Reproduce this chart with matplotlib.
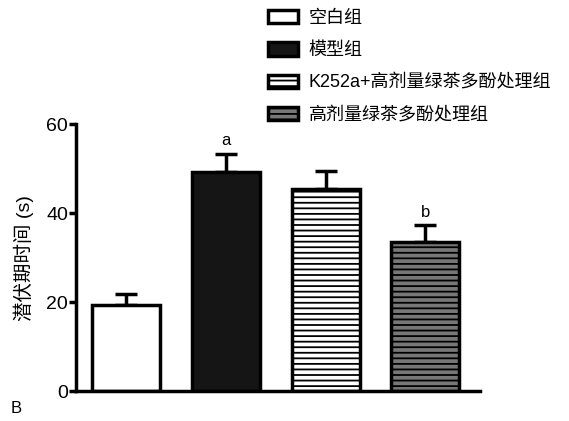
import matplotlib
matplotlib.use('Agg')
import matplotlib.pyplot as plt
from matplotlib.patches import Patch

plt.rcParams['font.family'] = ['Liberation Sans', 'Noto Sans CJK SC']
plt.rcParams['hatch.linewidth'] = 1.3

# group names, mean latency and upper error (SEM)
groups = ['空白组', '模型组', 'K252a+高剂量绿茶多酚处理组', '高剂量绿茶多酚处理组']
means = [19.4, 49.2, 45.4, 33.5]
errors = [2.4, 4.2, 4.0, 3.8]
marks = ['', 'a', '', 'b']
yticks = [0, 20, 40, 60]

fills = ['white', '#151515', 'white', '#777777']
hatches = [None, None, '---', '---']

fig = plt.figure(figsize=(5.69, 4.21), dpi=100)
ax = fig.add_axes([0.134, 0.071, 0.71, 0.634])

x = list(range(len(groups)))
for i in x:
    ax.bar(i, means[i], width=0.68, color=fills[i], edgecolor='black',
           linewidth=2.5, hatch=hatches[i], zorder=2)
    ax.errorbar(i, means[i], yerr=[[0], [errors[i]]], fmt='none',
                ecolor='black', elinewidth=2.5, capsize=8, capthick=2.5, zorder=1)
    if marks[i]:
        ax.text(i, means[i] + errors[i] + 1.2, marks[i], ha='center',
                va='bottom', fontsize=12)

ax.set_xlim(-0.5, 3.55)
ax.set_ylim(0, 60)
ax.set_yticks(yticks)
ax.set_xticks([])
ax.tick_params(axis='y', direction='out', length=5, width=2.5, labelsize=14, pad=1)
for side in ['top', 'right']:
    ax.spines[side].set_visible(False)
for side in ['left', 'bottom']:
    ax.spines[side].set_linewidth(2.5)
ax.set_ylabel('潜伏期时间 (s)', fontsize=14, labelpad=9)

handles = [Patch(facecolor=fills[i], edgecolor='black', linewidth=2.5,
                 hatch=hatches[i]) for i in x]
fig.legend(handles, groups, loc='upper left', bbox_to_anchor=(0.443, 1.015),
           frameon=False, fontsize=13, handlelength=1.65, handleheight=0.75,
           handletextpad=0.6, labelspacing=0.85)

fig.text(0.018, 0.018, 'B', fontsize=12)

fig.savefig('out.png', dpi=100)
